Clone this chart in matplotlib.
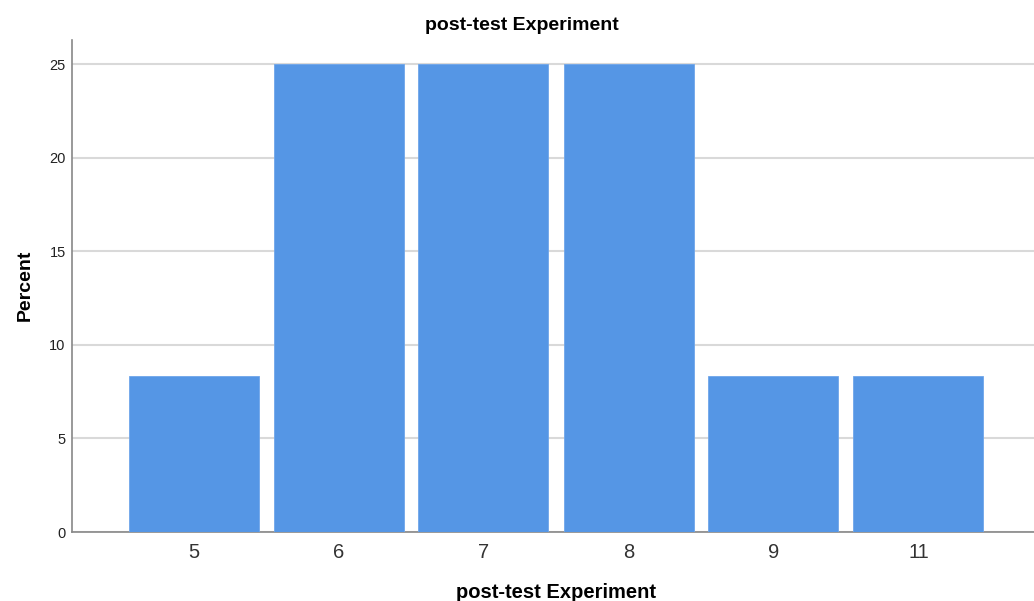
import matplotlib
matplotlib.use("Agg")
import matplotlib.pyplot as plt

categories = ["5", "6", "7", "8", "9", "11"]
percent = [8.33, 25.0, 25.0, 25.0, 8.33, 8.33]
yticks = [0, 5, 10, 15, 20, 25]

plt.rcParams['font.family'] = ['Liberation Sans', 'DejaVu Sans']

W, H = 1034, 601
fig = plt.figure(figsize=(W/100, H/100), dpi=100)
ax = fig.add_axes([72/W, (H-532)/H, 1 - 72/W, (532-40)/H])

x = list(range(len(categories)))
ax.bar(x, percent, width=130/145, color="#5596E5", edgecolor="#6FA6EA", linewidth=0.6, zorder=3)

ax.set_xlim(-121.5/145, (W-193.5)/145)
ax.set_ylim(0, 492/18.72)
ax.set_yticks(yticks)
ax.set_yticklabels([str(t) for t in yticks], fontsize=10.5, color="#222222")
ax.set_xticks(x)
ax.set_xticklabels(categories, fontsize=14.5, color="#333333")
ax.tick_params(axis='both', length=0)
ax.tick_params(axis='y', pad=4.5)
ax.tick_params(axis='x', pad=8)

ax.yaxis.grid(True, color="#D9D9D9", linewidth=1.5, zorder=0)
ax.set_axisbelow(True)
for s in ["top", "right"]:
    ax.spines[s].set_visible(False)
for s in ["left", "bottom"]:
    ax.spines[s].set_color("#888888")
    ax.spines[s].set_linewidth(1.2)

fig.text(521.5/W, (H-30)/H, "post-test Experiment", fontsize=14, fontweight="bold",
         ha="center", va="baseline")
fig.text(556/W, 3/H, "post-test Experiment", fontsize=14.5, fontweight="bold",
         ha="center", va="baseline")
fig.text(25/W, (H-285)/H, "Percent", fontsize=14, fontweight="bold",
         ha="center", va="center", rotation=90)

fig.savefig("out.png", dpi=100)
